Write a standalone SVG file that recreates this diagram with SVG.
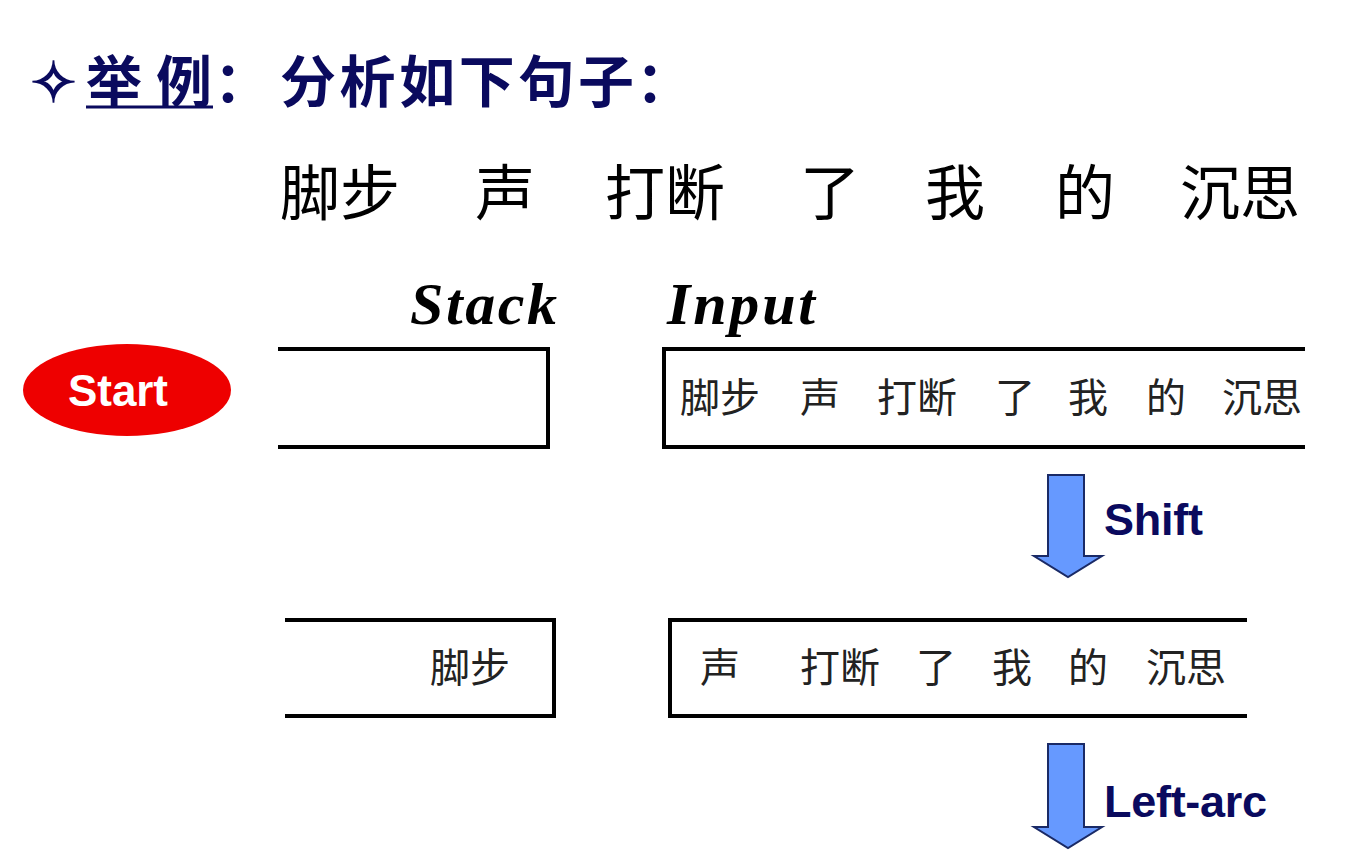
<svg xmlns="http://www.w3.org/2000/svg" width="1345" height="864" viewBox="0 0 1345 864">
<style>
.t{font-family:"Liberation Sans","Noto Sans CJK SC",sans-serif;font-weight:bold;fill:#0a0a5e;font-size:56px}
.cn{font-family:"Noto Sans CJK SC",serif;fill:#000;font-size:60px}
.sm{font-family:"Noto Sans CJK SC",serif;fill:#222;font-size:40px}
.box{fill:none;stroke:#000;stroke-width:4}
.arr{fill:#6699ff;stroke:#1a2a66;stroke-width:2}
.lbl{font-family:"Liberation Sans",sans-serif;font-weight:bold;fill:#0a0a5e;font-size:45px}
.hd{font-family:"Liberation Serif",serif;font-weight:bold;font-style:italic;font-size:60px}
</style>
<rect width="1345" height="864" fill="#fff"/>
<g id="title">
<text class="t" x="30" y="102">✧</text>
<text class="t" x="86" y="102" textLength="126">举例</text>
<text class="t" x="214" y="102">：</text>
<text class="t" x="280" y="102" textLength="354">分析如下句子</text>
<text class="t" x="636" y="102">：</text>
<line x1="86" y1="107" x2="213" y2="107" stroke="#0a0a5e" stroke-width="3"/>
</g>
<g id="sentence">
<text class="cn" x="280" y="215">脚步</text>
<text class="cn" x="475" y="215">声</text>
<text class="cn" x="605" y="215">打断</text>
<text class="cn" x="800" y="215">了</text>
<text class="cn" x="925" y="215">我</text>
<text class="cn" x="1055" y="215">的</text>
<text class="cn" x="1180" y="215">沉思</text>
</g>
<g id="headers">
<text class="hd" x="410" y="324" textLength="147">Stack</text>
<text class="hd" x="667" y="324" textLength="148">Input</text>
</g>
<g id="start">
<ellipse cx="127" cy="390" rx="104" ry="46" fill="#ee0000"/>
<text x="118" y="406" text-anchor="middle" font-family="Liberation Sans,sans-serif" font-weight="bold" font-size="44" fill="#fff" textLength="100">Start</text>
</g>
<g id="stack1"><path class="box" d="M278 349H548V447H278"/></g>
<g id="input1"><path class="box" d="M1305 349H664V447H1305"/>
<text class="sm" x="680" y="412">脚步</text>
<text class="sm" x="800" y="412">声</text>
<text class="sm" x="877" y="412">打断</text>
<text class="sm" x="995" y="412">了</text>
<text class="sm" x="1068" y="412">我</text>
<text class="sm" x="1146" y="412">的</text>
<text class="sm" x="1222" y="412">沉思</text>
</g>
<g id="stack2"><path class="box" d="M285 620H554V716H285"/><text class="sm" x="430" y="682">脚步</text></g>
<g id="input2"><path class="box" d="M1247 620H670V716H1247"/>
<text class="sm" x="700" y="682">声</text>
<text class="sm" x="800" y="682">打断</text>
<text class="sm" x="916" y="682">了</text>
<text class="sm" x="992" y="682">我</text>
<text class="sm" x="1068" y="682">的</text>
<text class="sm" x="1146" y="682">沉思</text>
</g>
<g id="connectors">
<path class="arr" d="M1048 475H1084V556H1102L1068 577L1034 556H1048Z"/>
<text class="lbl" x="1104" y="535" textLength="99">Shift</text>
<path class="arr" d="M1048 744H1084V827H1102L1068 848L1034 827H1048Z"/>
<text class="lbl" x="1104" y="817" textLength="163">Left-arc</text>
</g>
</svg>
